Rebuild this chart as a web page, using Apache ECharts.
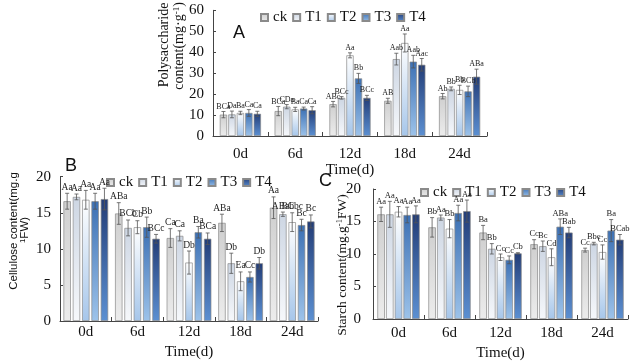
<!DOCTYPE html>
<html><head><meta charset="utf-8">
<script src="https://cdn.jsdelivr.net/npm/echarts@6/dist/echarts.min.js"></script>
<style>html,body{margin:0;padding:0;background:#fff}#c{width:640px;height:362px}</style>
</head><body><div id="c"></div>
<script>
const categories = ['0d','6d','12d','18d','24d'];
const treatments = ['ck','T1','T2','T3','T4'];
const yTicksA = [0,10,20,30,40,50,60];
const yTicksBC = [0,5,10,15,20];

// Panel A: polysaccharide (rows = treatments, cols = days)
const polyMeans = [
  [10.2, 11.9, 15.2, 16.8, 19.0],
  [10.3, 14.0, 18.2, 36.7, 22.5],
  [11.0, 12.7, 38.5, 44.4, 22.0],
  [11.0, 13.1, 27.5, 35.5, 21.3],
  [10.6, 12.3, 18.2, 34.0, 28.3]
];
const polyErr = [
  [1.5, 2.2, 1.3, 1.2, 1.3],
  [1.6, 1.0, 0.6, 2.8, 0.9],
  [0.8, 1.0, 1.2, 4.3, 2.2],
  [1.6, 0.7, 2.4, 3.0, 2.5],
  [1.2, 1.7, 1.2, 3.0, 3.6]
];
const polyLetters = [
  ['BCa','BCa','ABc','AB','Ab'],
  ['Da','CDa','BCc','Aab','Bb'],
  ['Ba','Ba','Aa','Aa','Bb'],
  ['Ca','Ca','Bb','Aab','BCb'],
  ['Ca','Ca','BCc','Aac','ABa']
];
// Panel B: cellulose
const celluMeans = [
  [16.6, 14.9, 11.5, 13.6, 15.7],
  [17.2, 12.9, 11.8, 8.0, 14.8],
  [16.8, 13.0, 8.1, 5.5, 13.7],
  [16.6, 13.0, 12.3, 6.1, 13.3],
  [16.9, 11.4, 11.4, 8.0, 13.8]
];
const celluErr = [
  [1.1, 1.5, 1.3, 1.2, 1.5],
  [0.4, 1.1, 0.7, 1.4, 0.3],
  [1.3, 0.9, 1.6, 1.3, 1.3],
  [1.1, 1.4, 0.8, 0.7, 0.8],
  [1.5, 0.6, 0.8, 0.8, 0.9]
];
const celluLetters = [
  ['Aa','ABa','Ca','ABa','Aa'],
  ['Aa','BCb','Ca','Db','ABab'],
  ['Aa','Cb','Db','Ea','BCbc'],
  ['Aa','Bb','Ba','Cc','Bc'],
  ['Aa','BCc','BCa','Db','Bc']
];
// Panel C: starch
const starchMeans = [
  [16.1, 14.1, 13.3, 11.5, 10.6],
  [16.1, 15.6, 10.8, 11.2, 11.6],
  [16.5, 13.9, 9.5, 9.5, 10.3],
  [16.0, 16.3, 9.1, 14.2, 13.6],
  [16.1, 16.6, 10.1, 13.3, 12.2]
];
const starchErr = [
  [1.1, 1.5, 1.1, 0.7, 0.3],
  [2.0, 0.4, 0.8, 0.8, 0.2],
  [0.8, 1.4, 0.5, 1.3, 1.1],
  [1.2, 1.2, 0.6, 1.2, 1.7],
  [1.3, 1.7, 0.1, 0.8, 0.8]
];
const starchLetters = [
  ['Aa','Bb','Ba','Cc','Cc'],
  ['Aa','Aa','Bb','Bc','Bbc'],
  ['Aa','Bb','Cc','Cd','Cc'],
  ['Aa','Aa','Cc','ABa','Ba'],
  ['Aa','Aa','Cb','Bab','BCab']
];

const SERIF = '"Liberation Serif","Times New Roman",serif';
const SANS = '"Liberation Sans",Arial,sans-serif';

const barColors = [
  ['#cfcfcf','#ececec'],
  ['#cdd6e3','#f6f8fb'],
  ['#ffffff','#a6c6ea'],
  ['#3c70b4','#9dc3ea'],
  ['#233d77','#5c90d2']
];
function grad(c){return {type:'linear',x:0,y:0,x2:0,y2:1,colorStops:[{offset:0,color:c[0]},{offset:1,color:c[1]}]};}

const panels = [
  {means:polyMeans, err:polyErr, letters:polyLetters, grid:{left:213,top:10.3,width:274,height:125.7},
   max:60, interval:10, barW:7.3, gap:0.16, labelSize:8, xMargin:11, nameGap:16, yMargin:9},
  {means:celluMeans, err:celluErr, letters:celluLetters, grid:{left:60,top:176.7,width:258,height:144.3},
   max:20, interval:5, barW:7.4, gap:0.26, labelSize:9.5, xMargin:4, nameGap:24, yMargin:9},
  {means:starchMeans, err:starchErr, letters:starchLetters, grid:{left:373,top:189,width:255,height:131},
   max:20, interval:5, barW:7.5, gap:0.16, labelSize:8.5, xMargin:7, nameGap:27, yMargin:12}
];

const grids=[], xAxes=[], yAxes=[], series=[];
panels.forEach((p,pi)=>{
  grids.push(p.grid);
  xAxes.push({type:'category', gridIndex:pi, data:categories,
    name:'Time(d)', nameLocation:'middle', nameGap:p.nameGap,
    nameTextStyle:{fontFamily:SERIF, fontSize:15, color:'#111'},
    axisLine:{lineStyle:{color:'#444',width:1}},
    axisTick:{show:true, inside:true, length:4, lineStyle:{color:'#444'}},
    axisLabel:{fontFamily:SERIF, fontSize:15, color:'#111', margin:p.xMargin}});
  yAxes.push({type:'value', gridIndex:pi, min:0, max:p.max, interval:p.interval,
    splitLine:{show:false},
    axisLine:{show:true, lineStyle:{color:'#444',width:1}},
    axisTick:{show:true, inside:true, length:3, lineStyle:{color:'#444'}},
    axisLabel:{fontFamily:SERIF, fontSize:15, color:'#111', margin:p.yMargin}});
  const step = p.barW*(1+p.gap);
  treatments.forEach((t,ti)=>{
    series.push({type:'bar', name:t, xAxisIndex:pi, yAxisIndex:pi,
      data:p.means[ti], barWidth:p.barW, barGap:(p.gap*100)+'%',
      itemStyle:{color:grad(barColors[ti]), borderColor:'#8a8a8a', borderWidth:0.7},
      emphasis:{disabled:true}, animation:false});
  });
  treatments.forEach((t,ti)=>{
    const letters = p.letters[ti];
    series.push({type:'custom', name:'err'+pi+'_'+ti, xAxisIndex:pi, yAxisIndex:pi,
      data:p.means[ti].map((m,i)=>[i,m,p.err[ti][i]]),
      encode:{x:0,y:1}, z:5, animation:false, silent:true,
      renderItem:function(params, api){
        const ci=api.value(0), m=api.value(1), e=api.value(2);
        const base=api.coord([ci,m]);
        const x=base[0]+(ti-2)*step;
        const yT=api.coord([ci,m+e])[1], yB=api.coord([ci,m-e])[1];
        const cap=2;
        const st={stroke:'#555',lineWidth:0.8};
        return {type:'group', children:[
          {type:'line',shape:{x1:x,y1:yT,x2:x,y2:yB},style:st},
          {type:'line',shape:{x1:x-cap,y1:yT,x2:x+cap,y2:yT},style:st},
          {type:'line',shape:{x1:x-cap,y1:yB,x2:x+cap,y2:yB},style:st},
          {type:'text',x:x,y:yT-1,style:{text:letters[params.dataIndex],align:'center',verticalAlign:'bottom',
            fontFamily:SERIF,fontSize:p.labelSize,fill:'#222'}}
        ]};
      }});
  });
});

function legendAt(left, top){
  return {data:treatments, left:left, top:top, itemWidth:7, itemHeight:7, itemGap:5, icon:'rect',
    selectedMode:false, textStyle:{fontFamily:SERIF, fontSize:15, color:'#111'}};
}

const chart = echarts.init(document.getElementById('c'), null, {renderer:'canvas'});
chart.setOption({
  animation:false,
  grid:grids, xAxis:xAxes, yAxis:yAxes, series:series,
  legend:[legendAt(255,5), legendAt(101,170), legendAt(415,180)],
  graphic:[
    {type:'text', left:233, top:24, style:{text:'A', fontFamily:SANS, fontSize:18, fill:'#111'}},
    {type:'text', left:65, top:157, style:{text:'B', fontFamily:SANS, fontSize:18, fill:'#111'}},
    {type:'text', left:319, top:172, style:{text:'C', fontFamily:SANS, fontSize:18, fill:'#111'}},
    {type:'text', x:164, y:45, rotation:Math.PI/2, style:{text:'Polysaccharide', align:'center', verticalAlign:'middle', fontFamily:SERIF, fontSize:14, fill:'#111'}},
    {type:'text', x:179, y:46, rotation:Math.PI/2, style:{text:'content(mg·g{sup|-1})', align:'center', verticalAlign:'middle', fontFamily:SERIF, fontSize:14, fill:'#111',
      rich:{sup:{fontSize:9, verticalAlign:'top', fontFamily:SERIF, fill:'#111'}}}},
    {type:'text', x:14, y:231, rotation:Math.PI/2, style:{text:'Cellulose content(mg.g', align:'center', verticalAlign:'middle', fontFamily:SANS, fontSize:11.5, fill:'#111'}},
    {type:'text', x:25, y:230, rotation:Math.PI/2, style:{text:'{sup|1}FW)', align:'center', verticalAlign:'middle', fontFamily:SANS, fontSize:11.5, fill:'#111',
      rich:{sup:{fontSize:8, verticalAlign:'top', fontFamily:SANS, fill:'#111'}}}},
    {type:'text', x:342, y:265, rotation:Math.PI/2, style:{text:'Starch content(mg.g{sup|-1}FW)', align:'center', verticalAlign:'middle', fontFamily:SERIF, fontSize:13.5, fill:'#111',
      rich:{sup:{fontSize:8.5, verticalAlign:'top', fontFamily:SERIF, fill:'#111'}}}}
  ]
});
</script></body></html>
